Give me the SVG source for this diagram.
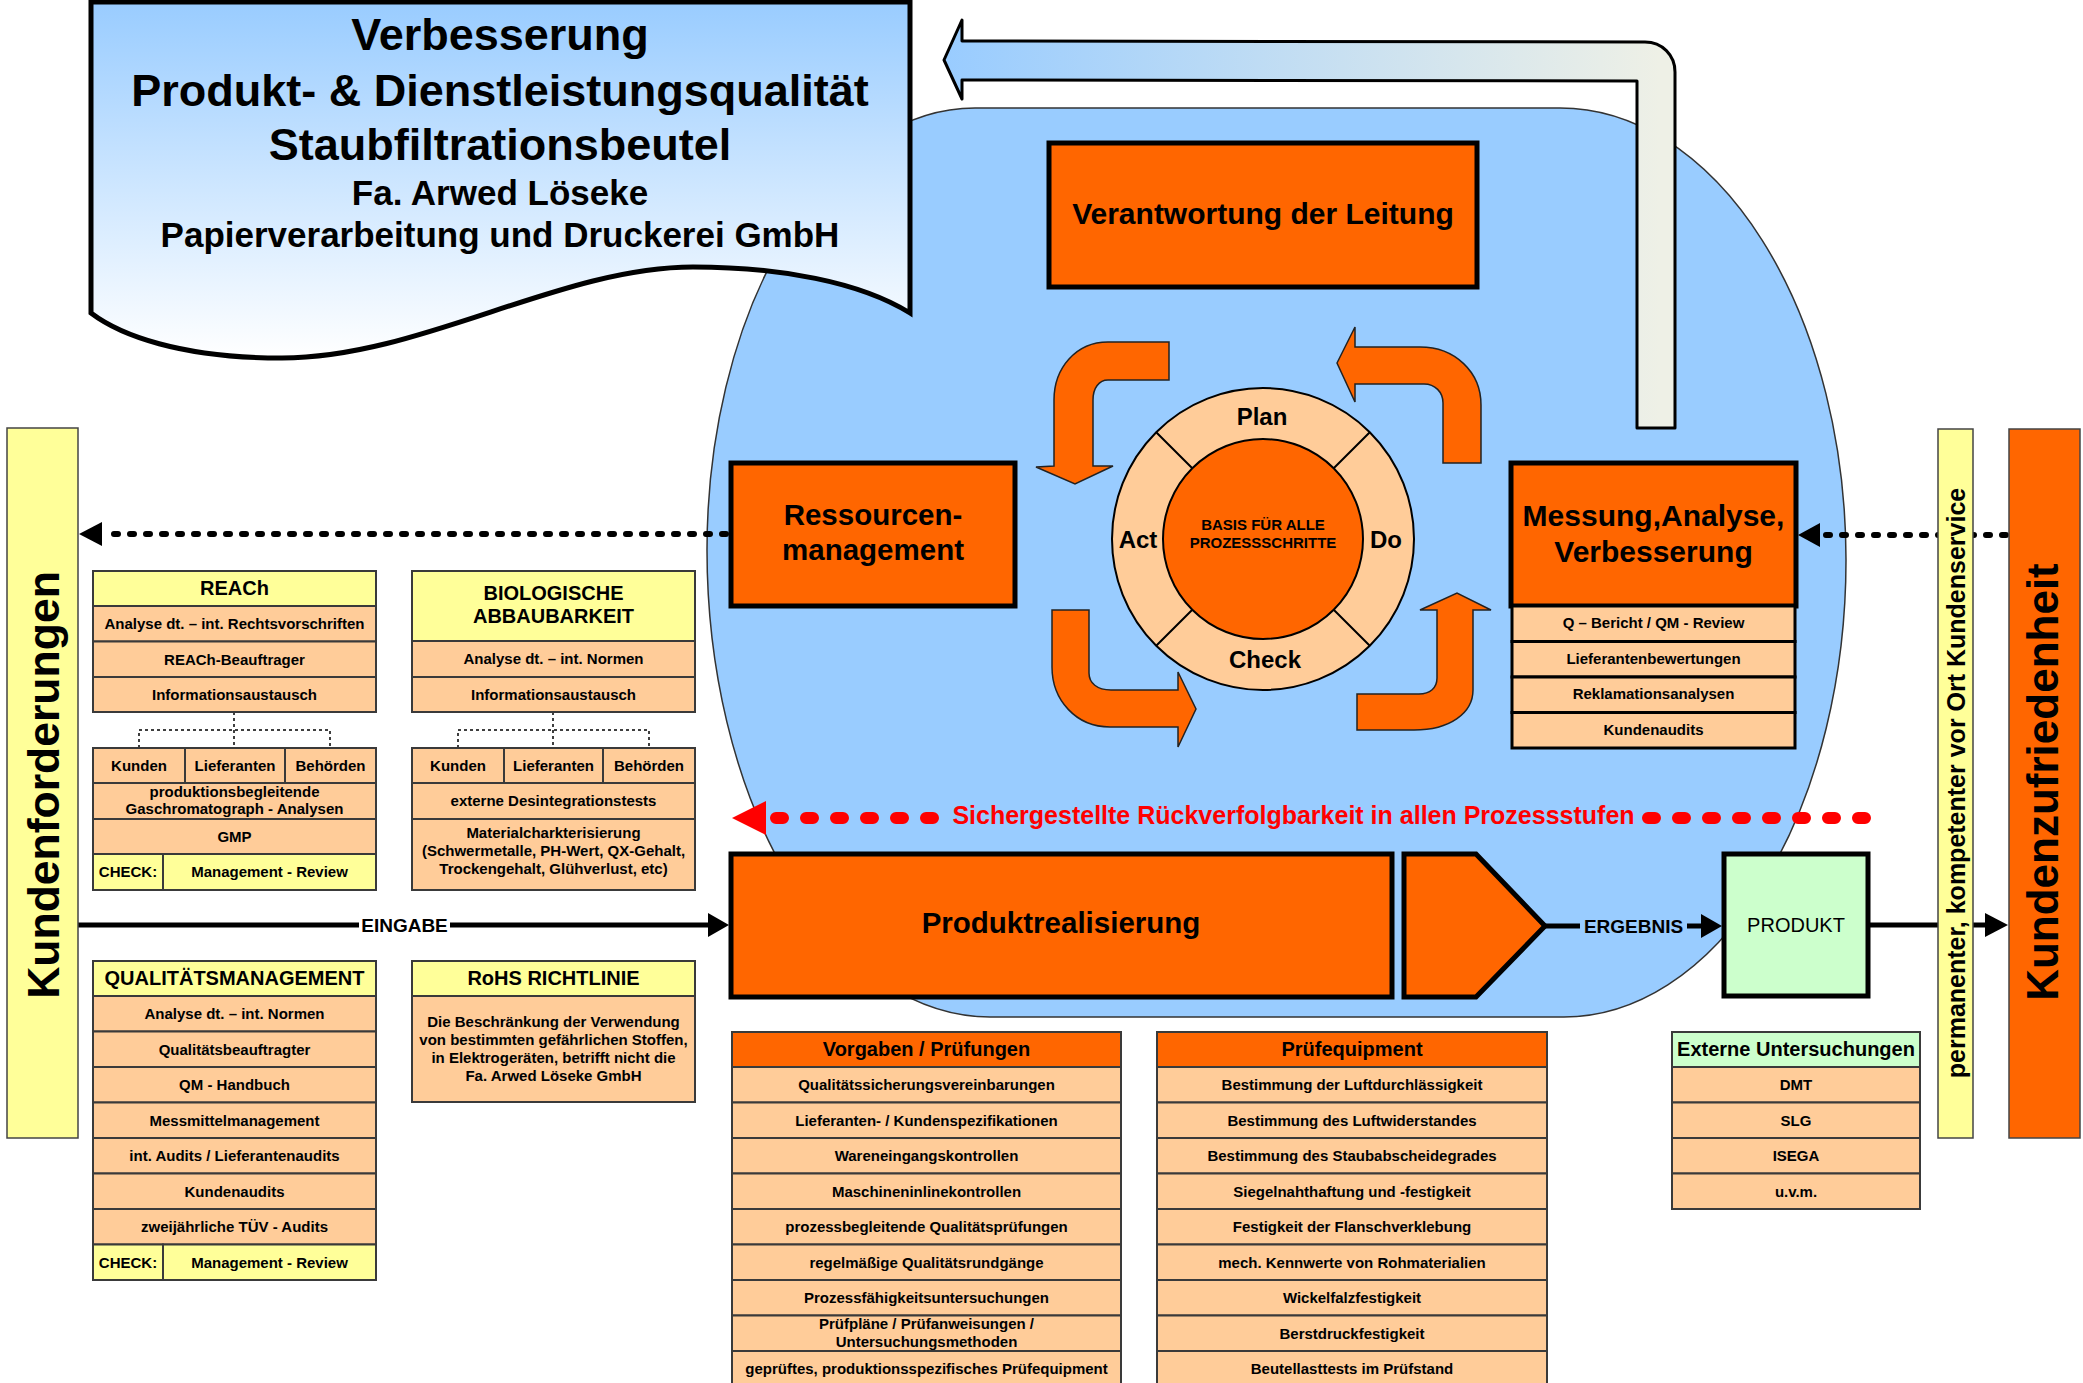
<svg xmlns="http://www.w3.org/2000/svg" width="2083" height="1383" viewBox="0 0 2083 1383">
<defs>
<linearGradient id="gTitle" x1="0" y1="2" x2="0" y2="358" gradientUnits="userSpaceOnUse"><stop offset="0" stop-color="#99CCFF"/><stop offset="1" stop-color="#FFFFFF"/></linearGradient>
<linearGradient id="gBack" x1="944" y1="0" x2="1660" y2="0" gradientUnits="userSpaceOnUse"><stop offset="0" stop-color="#99CCFF"/><stop offset="1" stop-color="#EEF0E6"/></linearGradient>
</defs>
<style>
text{font-family:"Liberation Sans",Arial,sans-serif;font-weight:bold;text-anchor:middle;fill:#000}
.or{fill:#FF6600}.pe{fill:#FFCC99}.ye{fill:#FFFF99}.gr{fill:#CCFFCC}
.cell{stroke:#3a3a3a;stroke-width:2}
.mcell{stroke:#000;stroke-width:3}
.box{stroke:#000;stroke-width:5}
.t15{font-size:15px}.t20{font-size:20px}.t19{font-size:19px}.t24{font-size:24px}.t29{font-size:29.5px}
.dot{fill:none;stroke:#000;stroke-width:6;stroke-linecap:round;stroke-dasharray:4 12}
.rdot{fill:none;stroke:#FF0000;stroke-width:12;stroke-linecap:round;stroke-dasharray:7 23}
.thin{fill:none;stroke:#000;stroke-width:1.5;stroke-dasharray:3 3}
.line{fill:none;stroke:#000;stroke-width:5}
.curv{fill:#FF6600;stroke:#222;stroke-width:1.5}
</style>
<rect width="2083" height="1383" fill="#FFFFFF"/>

<g id="blob">
<path d="M975,108 L1560,108 A286 452 0 0 1 1846,560 A282 457 0 0 1 1564,1017 L990,1017 A283 467 0 0 1 707,550 A268 442 0 0 1 975,108 Z" fill="#99CCFF" stroke="#333" stroke-width="1.5"/>
</g>

<g id="feedback-arrow">
<path d="M944,60 L962,20 L962,41 L1645,42 C1662,42 1675,55 1675,72 L1675,428 L1637,428 L1637,81 L962,80 L962,99 Z" fill="url(#gBack)" stroke="#000" stroke-width="3" stroke-linejoin="round"/>
</g>

<g id="title">
<path d="M91,2 L910,2 L910,313 C860,282 780,267 693,267 C560,267 420,358 282,358 C180,358 120,335 91,313 Z" fill="url(#gTitle)" stroke="#000" stroke-width="5"/>
<text x="500" y="50" style="font-size:45px">Verbesserung</text>
<text x="500" y="106" style="font-size:45px">Produkt- &amp; Dienstleistungsqualität</text>
<text x="500" y="160" style="font-size:45px">Staubfiltrationsbeutel</text>
<text x="500" y="205" style="font-size:35px">Fa. Arwed Löseke</text>
<text x="500" y="247" style="font-size:35px">Papierverarbeitung und Druckerei GmbH</text>
</g>

<g id="connectors">
<path class="dot" d="M726,534 H106"/>
<polygon points="79,534 102,522 102,546"/>
<path class="dot" d="M2006,535 H1826"/>
<polygon points="1798,535 1820,523 1820,547"/>
<path class="line" d="M78,925 H359 M450,925 H712"/>
<polygon points="729,925 708,913 708,937"/>
<path class="line" d="M1545,926 H1580 M1687,926 H1704"/>
<polygon points="1722,926 1701,914 1701,938"/>
<path class="line" d="M1868,925 H1987"/>
<polygon points="2008,925 1985,913 1985,937"/>
<path class="rdot" d="M776,818 H945 M1648,818 H1872"/>
<polygon points="732,818 766,801 766,835" fill="#FF0000"/>
<path class="thin" d="M234,712 V748 M139,748 V730 H330 V748"/>
<path class="thin" d="M553,712 V748 M458,748 V730 H649 V748"/>
</g>
<text x="404.5" y="932" class="t19">EINGABE</text>
<text x="1633.5" y="933" class="t19">ERGEBNIS</text>
<text x="1293.5" y="824" style="font-size:25px;fill:#FF0000">Sichergestellte Rückverfolgbarkeit in allen Prozessstufen</text>

<g id="verantwortung">
<rect x="1049" y="143" width="428" height="144" class="or box"/>
<text x="1263" y="224" style="font-size:30px">Verantwortung der Leitung</text>
</g>

<g id="ressourcen">
<rect x="731" y="463" width="284" height="143" class="or box"/>
<text x="873" y="525" class="t29">Ressourcen-</text>
<text x="873" y="560" class="t29">management</text>
</g>

<g id="messung">
<rect x="1511" y="463" width="285" height="143" class="or box"/>
<text x="1653.5" y="526" style="font-size:30px">Messung,Analyse,</text>
<text x="1653.5" y="562" style="font-size:30px">Verbesserung</text>
<rect x="1512" y="606" width="283" height="35.5" class="pe mcell"/>
<rect x="1512" y="641.5" width="283" height="35.5" class="pe mcell"/>
<rect x="1512" y="677" width="283" height="35.5" class="pe mcell"/>
<rect x="1512" y="712.5" width="283" height="35.5" class="pe mcell"/>
<text x="1653.5" y="628" class="t15">Q – Bericht / QM - Review</text>
<text x="1653.5" y="663.5" class="t15">Lieferantenbewertungen</text>
<text x="1653.5" y="699" class="t15">Reklamationsanalysen</text>
<text x="1653.5" y="734.5" class="t15">Kundenaudits</text>
</g>

<g id="pdca">
<path class="curv" d="M1169,342 L1108,342 C1076,342 1054,368 1054,400 L1054,466 L1036,467 L1075,484 L1113,466 L1093,466 L1093,400 C1093,388 1099,380 1108,380 L1169,380 Z"/>
<path class="curv" d="M1337,363 L1355,327 L1355,347 L1420,347 C1455,347 1481,372 1481,405 L1481,463 L1443,463 L1443,403 C1443,392 1435,384 1424,384 L1355,384 L1355,402 Z"/>
<path class="curv" d="M1052,610 L1089,610 L1089,673 C1089,683 1097,690 1111,690 L1178,690 L1178,672 L1196,709 L1178,747 L1178,727 L1110,727 C1076,727 1052,700 1052,667 Z"/>
<path class="curv" d="M1357,694 L1419,694 C1430,694 1437,688 1437,678 L1437,610 L1420,610 L1457,593 L1491,610 L1473,610 L1473,690 C1473,713 1450,730 1414,730 L1357,730 Z"/>
<circle cx="1263" cy="539" r="151" class="pe" stroke="#000" stroke-width="2"/>
<circle cx="1263" cy="539" r="100" class="or" stroke="#000" stroke-width="2"/>
<path d="M1192.3,468.3 L1156.2,432.2 M1333.7,468.3 L1369.8,432.2 M1192.3,609.7 L1156.2,645.8 M1333.7,609.7 L1369.8,645.8" stroke="#000" stroke-width="2"/>
<text x="1262" y="425" class="t24">Plan</text>
<text x="1265" y="668" class="t24">Check</text>
<text x="1138" y="548" class="t24">Act</text>
<text x="1386" y="548" class="t24">Do</text>
<text x="1263" y="530" class="t15">BASIS FÜR ALLE</text>
<text x="1263" y="548" class="t15">PROZESSSCHRITTE</text>
</g>

<g id="produktrealisierung">
<rect x="731" y="854" width="661" height="143" class="or box"/>
<text x="1061" y="933" class="t29">Produktrealisierung</text>
<path d="M1404,854 L1476,854 L1545,926 L1476,997 L1404,997 Z" class="or box" stroke-linejoin="miter"/>
</g>

<g id="produkt">
<rect x="1724" y="854" width="144" height="142" class="gr box"/>
<text x="1796" y="932" style="font-size:20px;font-weight:normal">PRODUKT</text>
</g>

<g id="kundenforderungen">
<rect x="7" y="428" width="71" height="710" class="ye" stroke="#444" stroke-width="1.5"/>
<text transform="translate(59,785) rotate(-90)" style="font-size:44.5px">Kundenforderungen</text>
</g>

<g id="kundenservice">
<rect x="1938" y="429" width="35" height="709" class="ye" stroke="#444" stroke-width="1.5"/>
<text transform="translate(1965,783) rotate(-90)" style="font-size:25px">permanenter, kompetenter vor Ort Kundenservice</text>
</g>

<g id="kundenzufriedenheit">
<rect x="2009" y="429" width="71" height="709" class="or" stroke="#444" stroke-width="1.5"/>
<text transform="translate(2058,782) rotate(-90)" style="font-size:44px">Kundenzufriedenheit</text>
</g>

<g id="reach">
<rect x="93" y="571" width="283" height="35" class="ye cell"/>
<rect x="93" y="606" width="283" height="35.5" class="pe cell"/>
<rect x="93" y="641.5" width="283" height="35.5" class="pe cell"/>
<rect x="93" y="677" width="283" height="35" class="pe cell"/>
<rect x="93" y="748" width="92" height="35" class="pe cell"/>
<rect x="185" y="748" width="100" height="35" class="pe cell"/>
<rect x="285" y="748" width="91" height="35" class="pe cell"/>
<rect x="93" y="783" width="283" height="36" class="pe cell"/>
<rect x="93" y="819" width="283" height="35" class="pe cell"/>
<rect x="93" y="854" width="70" height="36" class="ye cell"/>
<rect x="163" y="854" width="213" height="36" class="ye cell"/>
<text x="234.5" y="595" class="t20">REACh</text>
<text x="234.5" y="629" class="t15">Analyse dt. – int. Rechtsvorschriften</text>
<text x="234.5" y="664.5" class="t15">REACh-Beauftrager</text>
<text x="234.5" y="700" class="t15">Informationsaustausch</text>
<text x="139" y="771" class="t15">Kunden</text>
<text x="235" y="771" class="t15">Lieferanten</text>
<text x="330.5" y="771" class="t15">Behörden</text>
<text x="234.5" y="797" class="t15">produktionsbegleitende</text>
<text x="234.5" y="814" class="t15">Gaschromatograph - Analysen</text>
<text x="234.5" y="842" class="t15">GMP</text>
<text x="128" y="877" class="t15">CHECK:</text>
<text x="269.5" y="877" class="t15">Management - Review</text>
</g>

<g id="bio">
<rect x="412" y="571" width="283" height="70" class="ye cell"/>
<rect x="412" y="641" width="283" height="36" class="pe cell"/>
<rect x="412" y="677" width="283" height="35" class="pe cell"/>
<rect x="412" y="748" width="92" height="35" class="pe cell"/>
<rect x="504" y="748" width="99" height="35" class="pe cell"/>
<rect x="603" y="748" width="92" height="35" class="pe cell"/>
<rect x="412" y="783" width="283" height="36" class="pe cell"/>
<rect x="412" y="819" width="283" height="71" class="pe cell"/>
<text x="553.5" y="600" class="t20">BIOLOGISCHE</text>
<text x="553.5" y="623" class="t20">ABBAUBARKEIT</text>
<text x="553.5" y="664" class="t15">Analyse dt. – int. Normen</text>
<text x="553.5" y="700" class="t15">Informationsaustausch</text>
<text x="458" y="771" class="t15">Kunden</text>
<text x="553.5" y="771" class="t15">Lieferanten</text>
<text x="649" y="771" class="t15">Behörden</text>
<text x="553.5" y="806" class="t15">externe Desintegrationstests</text>
<text x="553.5" y="838" class="t15">Materialcharkterisierung</text>
<text x="553.5" y="856" class="t15">(Schwermetalle, PH-Wert, QX-Gehalt,</text>
<text x="553.5" y="874" class="t15">Trockengehalt, Glühverlust, etc)</text>
</g>

<g id="qm">
<rect x="93" y="961" width="283" height="35" class="ye cell"/>
<rect x="93" y="996" width="283" height="35.5" class="pe cell"/>
<rect x="93" y="1031.5" width="283" height="35.5" class="pe cell"/>
<rect x="93" y="1067" width="283" height="35.5" class="pe cell"/>
<rect x="93" y="1102.5" width="283" height="35.5" class="pe cell"/>
<rect x="93" y="1138" width="283" height="35.5" class="pe cell"/>
<rect x="93" y="1173.5" width="283" height="35.5" class="pe cell"/>
<rect x="93" y="1209" width="283" height="35.5" class="pe cell"/>
<rect x="93" y="1244.5" width="70" height="35.5" class="ye cell"/>
<rect x="163" y="1244.5" width="213" height="35.5" class="ye cell"/>
<text x="234.5" y="985" class="t20">QUALITÄTSMANAGEMENT</text>
<text x="234.5" y="1019" class="t15">Analyse dt. – int. Normen</text>
<text x="234.5" y="1054.5" class="t15">Qualitätsbeauftragter</text>
<text x="234.5" y="1090" class="t15">QM - Handbuch</text>
<text x="234.5" y="1125.5" class="t15">Messmittelmanagement</text>
<text x="234.5" y="1161" class="t15">int. Audits / Lieferantenaudits</text>
<text x="234.5" y="1196.5" class="t15">Kundenaudits</text>
<text x="234.5" y="1232" class="t15">zweijährliche TÜV - Audits</text>
<text x="128" y="1267.5" class="t15">CHECK:</text>
<text x="269.5" y="1267.5" class="t15">Management - Review</text>
</g>

<g id="rohs">
<rect x="412" y="961" width="283" height="35" class="ye cell"/>
<rect x="412" y="996" width="283" height="106" class="pe cell"/>
<text x="553.5" y="985" class="t20">RoHS RICHTLINIE</text>
<text x="553.5" y="1027" class="t15">Die Beschränkung der Verwendung</text>
<text x="553.5" y="1045" class="t15">von bestimmten gefährlichen Stoffen,</text>
<text x="553.5" y="1063" class="t15">in Elektrogeräten, betrifft nicht die</text>
<text x="553.5" y="1081" class="t15">Fa. Arwed Löseke GmbH</text>
</g>

<g id="vorgaben">
<rect x="732" y="1032" width="389" height="35" class="or cell"/>
<rect x="732" y="1067" width="389" height="35.5" class="pe cell"/>
<rect x="732" y="1102.5" width="389" height="35.5" class="pe cell"/>
<rect x="732" y="1138" width="389" height="35.5" class="pe cell"/>
<rect x="732" y="1173.5" width="389" height="35.5" class="pe cell"/>
<rect x="732" y="1209" width="389" height="35.5" class="pe cell"/>
<rect x="732" y="1244.5" width="389" height="35.5" class="pe cell"/>
<rect x="732" y="1280" width="389" height="35.5" class="pe cell"/>
<rect x="732" y="1315.5" width="389" height="35.5" class="pe cell"/>
<rect x="732" y="1351" width="389" height="40" class="pe cell"/>
<text x="926.5" y="1056" class="t20">Vorgaben / Prüfungen</text>
<text x="926.5" y="1090" class="t15">Qualitätssicherungsvereinbarungen</text>
<text x="926.5" y="1125.5" class="t15">Lieferanten- / Kundenspezifikationen</text>
<text x="926.5" y="1161" class="t15">Wareneingangskontrollen</text>
<text x="926.5" y="1196.5" class="t15">Maschineninlinekontrollen</text>
<text x="926.5" y="1232" class="t15">prozessbegleitende Qualitätsprüfungen</text>
<text x="926.5" y="1267.5" class="t15">regelmäßige Qualitätsrundgänge</text>
<text x="926.5" y="1303" class="t15">Prozessfähigkeitsuntersuchungen</text>
<text x="926.5" y="1329" class="t15">Prüfpläne / Prüfanweisungen /</text>
<text x="926.5" y="1347" class="t15">Untersuchungsmethoden</text>
<text x="926.5" y="1374" class="t15">geprüftes, produktionsspezifisches Prüfequipment</text>
</g>

<g id="pruefequipment">
<rect x="1157" y="1032" width="390" height="35" class="or cell"/>
<rect x="1157" y="1067" width="390" height="35.5" class="pe cell"/>
<rect x="1157" y="1102.5" width="390" height="35.5" class="pe cell"/>
<rect x="1157" y="1138" width="390" height="35.5" class="pe cell"/>
<rect x="1157" y="1173.5" width="390" height="35.5" class="pe cell"/>
<rect x="1157" y="1209" width="390" height="35.5" class="pe cell"/>
<rect x="1157" y="1244.5" width="390" height="35.5" class="pe cell"/>
<rect x="1157" y="1280" width="390" height="35.5" class="pe cell"/>
<rect x="1157" y="1315.5" width="390" height="35.5" class="pe cell"/>
<rect x="1157" y="1351" width="390" height="40" class="pe cell"/>
<text x="1352" y="1056" class="t20">Prüfequipment</text>
<text x="1352" y="1090" class="t15">Bestimmung der Luftdurchlässigkeit</text>
<text x="1352" y="1125.5" class="t15">Bestimmung des Luftwiderstandes</text>
<text x="1352" y="1161" class="t15">Bestimmung des Staubabscheidegrades</text>
<text x="1352" y="1196.5" class="t15">Siegelnahthaftung und -festigkeit</text>
<text x="1352" y="1232" class="t15">Festigkeit der Flanschverklebung</text>
<text x="1352" y="1267.5" class="t15">mech. Kennwerte von Rohmaterialien</text>
<text x="1352" y="1303" class="t15">Wickelfalzfestigkeit</text>
<text x="1352" y="1338.5" class="t15">Berstdruckfestigkeit</text>
<text x="1352" y="1374" class="t15">Beutellasttests im Prüfstand</text>
</g>

<g id="externe">
<rect x="1672" y="1032" width="248" height="35" class="gr cell"/>
<rect x="1672" y="1067" width="248" height="35.5" class="pe cell"/>
<rect x="1672" y="1102.5" width="248" height="35.5" class="pe cell"/>
<rect x="1672" y="1138" width="248" height="35.5" class="pe cell"/>
<rect x="1672" y="1173.5" width="248" height="35.5" class="pe cell"/>
<text x="1796" y="1056" class="t20">Externe Untersuchungen</text>
<text x="1796" y="1090" class="t15">DMT</text>
<text x="1796" y="1125.5" class="t15">SLG</text>
<text x="1796" y="1161" class="t15">ISEGA</text>
<text x="1796" y="1196.5" class="t15">u.v.m.</text>
</g>
</svg>
